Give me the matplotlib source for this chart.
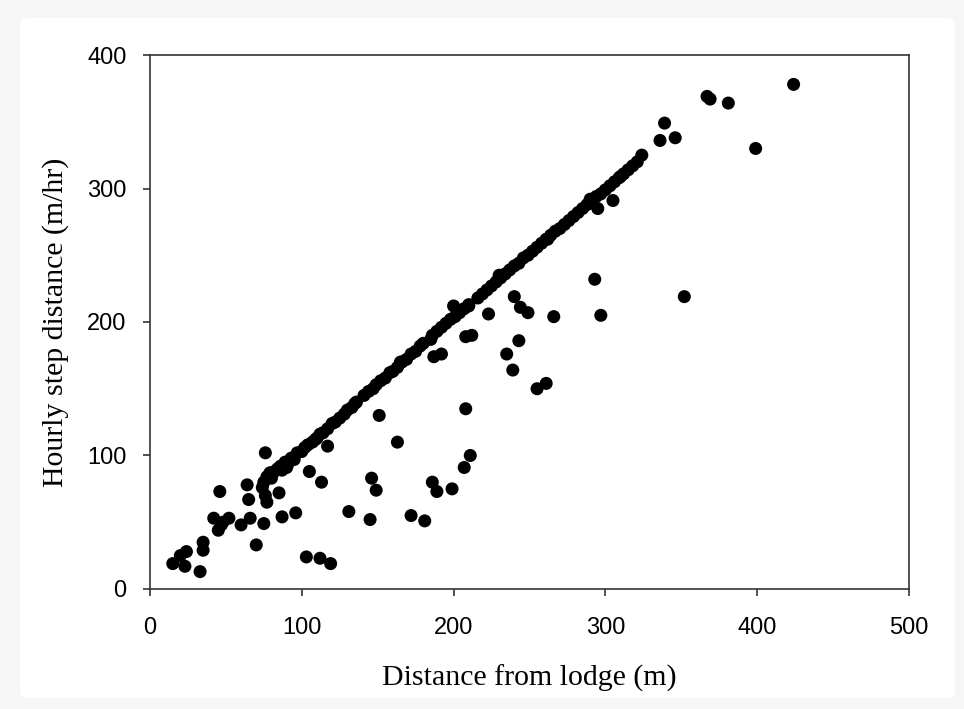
import matplotlib
matplotlib.use("Agg")
from matplotlib import pyplot as plt
from matplotlib.patches import FancyBboxPatch

# points off the main diagonal
scatter_x = [15, 20, 24, 23, 33, 35, 35, 42, 46, 45, 48, 52, 47,
             60, 66, 64, 65, 70, 74, 75, 76, 77, 76, 85, 87, 96,
             103, 112, 119, 105, 113, 117,
             131, 145, 146, 149, 151, 163, 172, 181, 186, 189, 199,
             207, 211, 208, 187, 192, 208, 212, 200, 210, 223, 240, 244,
             249, 266, 243, 235, 239, 255, 261, 293, 297, 352, 295, 305,
             336, 339, 346, 367, 369, 381, 399, 424]
scatter_y = [19, 25, 28, 17, 13, 35, 29, 53, 73, 44, 50, 53, 48,
             48, 53, 78, 67, 33, 76, 49, 102, 65, 70, 72, 54, 57,
             24, 23, 19, 88, 80, 107,
             58, 52, 83, 74, 130, 110, 55, 51, 80, 73, 75,
             91, 100, 135, 174, 176, 189, 190, 212, 212, 206, 219, 211,
             207, 204, 186, 176, 164, 150, 154, 232, 205, 219, 285, 291,
             336, 349, 338, 369, 367, 364, 330, 378]

# points lying on the diagonal (step distance ~ distance from lodge)
line_x = [75, 77, 79, 80, 82, 84, 86, 87, 89, 91, 93, 95, 97, 100, 102, 104,
          107, 109, 112, 114, 117, 120, 122, 125, 128, 130, 133, 136, 141,
          144, 147, 149, 152, 155, 158, 160, 163, 166, 169, 172, 175, 178,
          180, 186, 189, 192, 195, 198, 201, 204, 207, 210, 216, 219, 222,
          225, 228, 231, 234, 237, 240, 243, 246, 249, 252, 255, 258, 261,
          264, 267, 270, 273, 276, 279, 282, 285, 288, 291, 294, 297, 300,
          303, 306, 309, 312, 315, 318, 321, 324,
          90, 110, 135, 165, 185, 230, 262, 290, 310]
line_y = [80, 84, 87, 83, 88, 90, 92, 89, 95, 94, 98, 97, 102, 103, 106, 108,
          110, 112, 116, 117, 120, 124, 125, 128, 131, 134, 136, 140, 145,
          148, 150, 153, 156, 158, 162, 163, 166, 170, 172, 176, 178, 182,
          184, 190, 193, 196, 199, 202, 204, 207, 210, 213, 218, 221, 224,
          227, 230, 233, 236, 239, 242, 244, 248, 250, 253, 256, 259, 262,
          265, 268, 270, 273, 276, 279, 282, 285, 288, 291, 294, 296, 299,
          302, 305, 308, 311, 314, 317, 320, 325,
          91, 113, 139, 170, 187, 235, 262, 292, 309]

fig = plt.figure(figsize=(9.64, 7.09), dpi=100)
fig.patch.set_facecolor("#f6f6f6")
frame = FancyBboxPatch((20 / 964, 11 / 709), 935 / 964, 680 / 709,
                       boxstyle="round,pad=0,rounding_size=0.01",
                       transform=fig.transFigure, facecolor="white",
                       edgecolor="none", zorder=-10)
fig.patches.append(frame)

ax = fig.add_axes([0.1556, 0.1693, 0.7873, 0.7531])
ax.set_zorder(5)
ax.set_facecolor("white")
ax.scatter(line_x, line_y, s=88, c="black", edgecolors="none")
ax.scatter(scatter_x, scatter_y, s=88, c="black", edgecolors="none")

ax.set_xlim(0, 500)
ax.set_ylim(0, 400)
ax.set_xticks([0, 100, 200, 300, 400, 500])
ax.set_yticks([0, 100, 200, 300, 400])
ax.tick_params(direction="out", length=5, width=1.2, color="#333333",
               labelsize=17, pad=12, top=False, right=False)
ax.tick_params(axis="x", pad=15)
for lab in ax.get_xticklabels() + ax.get_yticklabels():
    lab.set_fontfamily("Liberation Sans")
for sp in ax.spines.values():
    sp.set_linewidth(1.2)
    sp.set_color("#333333")

ax.set_xlabel("Distance from lodge (m)", family="Liberation Serif",
              fontsize=21.5, labelpad=19)
ax.set_ylabel("Hourly step distance (m/hr)", family="Liberation Serif",
              fontsize=21.5, labelpad=13)

fig.savefig("out.png", dpi=100, facecolor=fig.get_facecolor())
